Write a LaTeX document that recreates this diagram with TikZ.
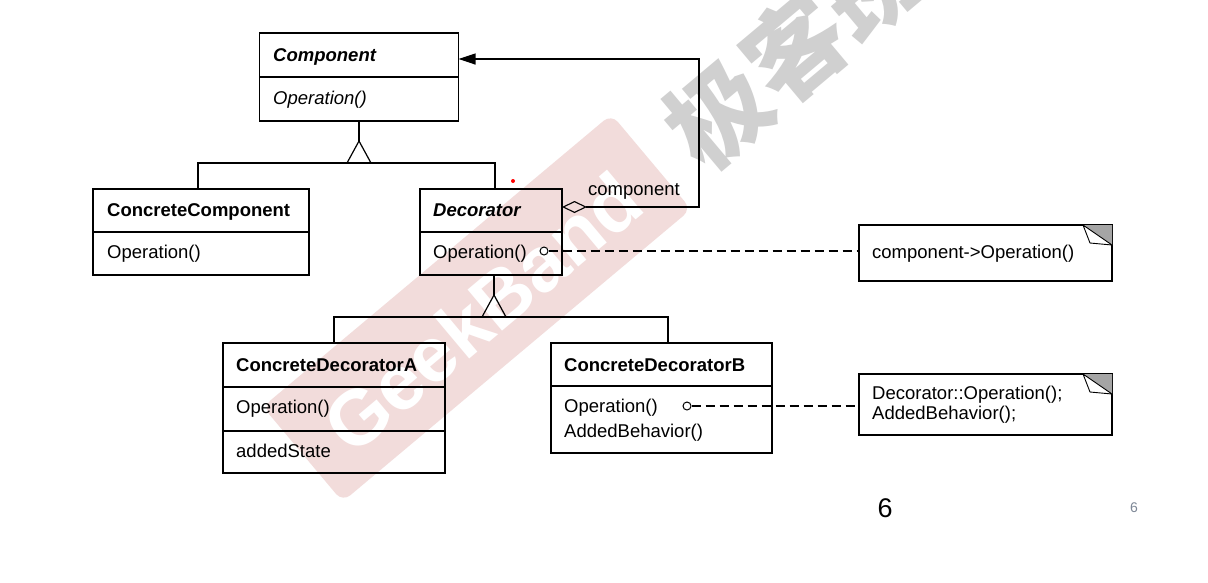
\documentclass[tikz,border=0pt]{standalone}
\usepackage{fontspec}
\setmainfont{Liberation Sans}
\newfontfamily\cjkwm{Noto Sans CJK SC}
\usetikzlibrary{arrows.meta,calc}
\definecolor{wmpink}{RGB}{242,220,219}
\definecolor{wmgray}{RGB}{208,208,208}
\definecolor{pagegray}{RGB}{125,135,150}
\definecolor{eargray}{RGB}{165,165,165}
\begin{document}
\begin{tikzpicture}[x=1pt,y=-1pt,
  every node/.style={font=\fontsize{18.5}{20}\selectfont},
  box/.style={draw,line width=1.2pt,inner sep=0pt,outer sep=0pt},
  lbl/.style={anchor=base west,inner sep=0pt},
  ttl/.style={lbl,font=\bfseries\fontsize{18.5}{20}\selectfont},
  abst/.style={lbl,font=\bfseries\itshape\fontsize{18.5}{20}\selectfont},
  absop/.style={lbl,font=\itshape\fontsize{18.5}{20}\selectfont},
  ln/.style={line width=1.2pt},
  dep/.style={line width=1.1pt,dash pattern=on 9pt off 5pt},
  port/.style={circle,draw,line width=1pt,inner sep=0pt,minimum size=8pt,fill=white}
]
\useasboundingbox (0,0) rectangle (1208,582);
\fill[white] (0,0) rectangle (1208,582);

% watermark
\node[rotate=40, fill=wmpink, minimum width=455pt, minimum height=124pt, rounded corners=10pt, inner sep=0pt] (band) at (477,308) {};
\node[rotate=40, text=white, font=\bfseries\fontsize{78}{78}\selectfont, inner sep=0pt] (gb) at (482,312) {GeekBand};
\node[rotate=40, text=wmgray, font=\cjkwm\bfseries\fontsize{100}{100}\selectfont, inner sep=0pt] (jkb) at (795,48) {极客班};

% classes
\node[box,minimum width=199pt,minimum height=88pt] (comp) at (359,77) {};
\draw[ln] (comp.west) -- (comp.east);
\node[abst] (compT) at (273,61.5) {Component};
\node[absop] (compO) at (273,104.5) {Operation()};

\node[box,minimum width=216pt,minimum height=86pt] (cc) at (201,232) {};
\draw[ln] (cc.west) -- (cc.east);
\node[ttl] (ccT) at (107,216.5) {ConcreteComponent};
\node[lbl] (ccO) at (107,258.5) {Operation()};

\node[box,minimum width=142pt,minimum height=86pt] (dec) at (491,232) {};
\draw[ln] (dec.west) -- (dec.east);
\node[abst] (decT) at (433,216.5) {Decorator};
\node[lbl] (decO) at (433,258.5) {Operation()};

\node[box,minimum width=222pt,minimum height=130pt] (cda) at (334,408) {};
\draw[ln] ($(cda.north west)+(0,44)$) -- ($(cda.north east)+(0,44)$);
\draw[ln] ($(cda.north west)+(0,88)$) -- ($(cda.north east)+(0,88)$);
\node[ttl] (cdaT) at (236,371.5) {ConcreteDecoratorA};
\node[lbl] (cdaO) at (236,413.5) {Operation()};
\node[lbl] (cdaS) at (236,457.5) {addedState};

\node[box,minimum width=221pt,minimum height=110pt] (cdb) at (661.5,398) {};
\draw[ln] ($(cdb.north west)+(0,43)$) -- ($(cdb.north east)+(0,43)$);
\node[ttl] (cdbT) at (564,371.5) {ConcreteDecoratorB};
\node[lbl] (cdbO) at (564,412.5) {Operation()};
\node[lbl] (cdbA) at (564,437.5) {AddedBehavior()};

% notes
\node[box,minimum width=253pt,minimum height=56pt] (note1) at (985.5,253) {};
\fill[eargray] (note1.north east) -- ++(-29,0) -- ++(29,20) -- cycle;
\draw[line width=0.9pt,fill=white,line join=round] ($(note1.north east)+(-29,0)$) -- ++(7,18) -- ++(22,2) -- cycle;
\node[lbl] (n1T) at (872,258.5) {component->Operation()};

\node[box,minimum width=253pt,minimum height=61pt] (note2) at (985.5,404.5) {};
\fill[eargray] (note2.north east) -- ++(-29,0) -- ++(29,20) -- cycle;
\draw[line width=0.9pt,fill=white,line join=round] ($(note2.north east)+(-29,0)$) -- ++(7,18) -- ++(22,2) -- cycle;
\node[lbl] (n2a) at (872,399.5) {Decorator::Operation();};
\node[lbl] (n2b) at (872,419.5) {AddedBehavior();};

% generalization 1
\coordinate (apex1) at ($(comp.south)+(0,20)$);
\coordinate (g1) at ($(comp.south)+(0,42)$);
\coordinate (ccTop) at ([xshift=-3pt]cc.north);
\coordinate (decTop) at ([xshift=4pt]dec.north);
\draw[ln] (comp.south) -- (apex1);
\draw[ln,line join=miter] ($(g1)+(-12,0)$) -- (apex1) -- ($(g1)+(12,0)$) -- cycle;
\draw[ln] (ccTop) |- (g1) -| (decTop);

% generalization 2
\coordinate (decBot) at ([xshift=3pt]dec.south);
\coordinate (apex2) at ($(decBot)+(0,20)$);
\coordinate (g2) at ($(decBot)+(0,42)$);
\coordinate (cdaTop) at (cda.north);
\coordinate (cdbTop) at ([xshift=6.5pt]cdb.north);
\draw[ln] (decBot) -- (apex2);
\draw[ln,line join=miter] ($(g2)+(-12,0)$) -- (apex2) -- ($(g2)+(12,0)$) -- cycle;
\draw[ln] (cdaTop) |- (g2) -| (cdbTop);

% aggregation
\coordinate (aggS) at (dec.east |- 0,207);
\coordinate (bend) at (699,59);
\coordinate (aggE) at (comp.east |- 0,59);
\draw[ln,{Diamond[open,length=25pt,width=12pt,line width=1.1pt]}-{Triangle[length=17pt,width=11pt]}] (aggS) -| (bend) -- (aggE);
\node[lbl] (aggL) at (588,195.5) {component};
\fill[red] (513,181) circle (2);

% dependencies
\node[port] (p1) at (544,251) {};
\draw[dep] (p1.east) -- (p1.east -| note1.west);
\node[port] (p2) at (687,406) {};
\draw[dep] (p2.east) -- (p2.east -| note2.west);

% page numbers
\node[font=\fontsize{27}{27}\selectfont,inner sep=0pt] (pg) at (885,508) {6};
\node[font=\fontsize{14}{14}\selectfont,text=pagegray,inner sep=0pt] (pgs) at (1134,508) {6};
\end{tikzpicture}
\end{document}
